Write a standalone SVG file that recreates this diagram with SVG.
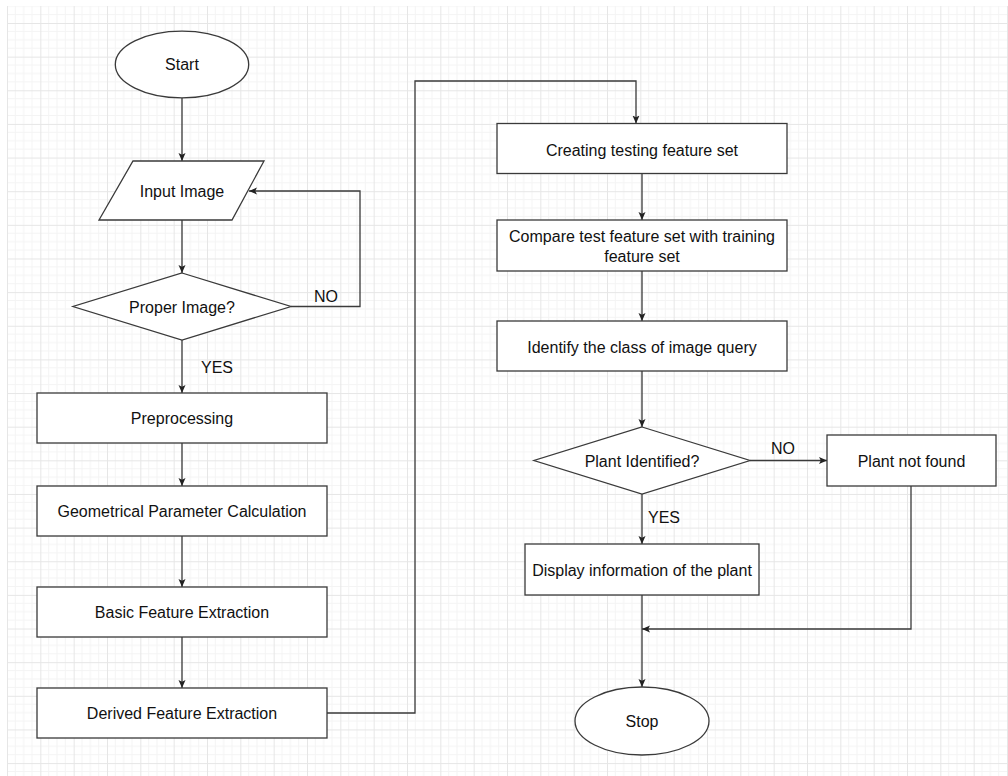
<svg xmlns="http://www.w3.org/2000/svg" width="1008" height="776" viewBox="0 0 1008 776">
<style>
.s{fill:#fff;stroke:#3a3a3a;stroke-width:1.3}
.c{fill:none;stroke:#3a3a3a;stroke-width:1.3}
.t{font-family:"Liberation Sans",Arial,sans-serif;font-size:16px;fill:#111;text-anchor:middle}
</style>
<defs>
<pattern id="g" x="7" y="23" width="33.333" height="33.64" patternUnits="userSpaceOnUse">
<path d="M8.333 0V33.64M16.667 0V33.64M25 0V33.64M0 8.41H33.333M0 16.82H33.333M0 25.23H33.333" stroke="#f4f4f4" stroke-width="1" fill="none"/>
<path d="M0.5 0V33.64M0 0.5H33.333" stroke="#e6e6e6" stroke-width="1" fill="none"/>
</pattern>
<marker id="a" viewBox="0 0 8 8" refX="8" refY="4" markerWidth="8" markerHeight="8" markerUnits="userSpaceOnUse" orient="auto">
<path d="M0,0.5 L8,4 L0,7.5 L1.8,4 z" fill="#222"/>
</marker>
</defs>
<rect width="1008" height="776" fill="#fff"/>
<rect x="7" y="6" width="1001" height="770" fill="url(#g)"/>

<g id="connectors">
<path class="c" d="M182 98V161" marker-end="url(#a)"/>
<path class="c" d="M182 220V273" marker-end="url(#a)"/>
<path class="c" d="M291 306.5H360V191H249" marker-end="url(#a)"/>
<path class="c" d="M182 340V393" marker-end="url(#a)"/>
<path class="c" d="M182 443V486" marker-end="url(#a)"/>
<path class="c" d="M182 536V587" marker-end="url(#a)"/>
<path class="c" d="M182 637V688" marker-end="url(#a)"/>
<path class="c" d="M327 713H415V81H636V123.5" marker-end="url(#a)"/>
<path class="c" d="M642 173.5V220" marker-end="url(#a)"/>
<path class="c" d="M642 271V321" marker-end="url(#a)"/>
<path class="c" d="M642 371V427" marker-end="url(#a)"/>
<path class="c" d="M750 460.5H827" marker-end="url(#a)"/>
<path class="c" d="M642 494V544" marker-end="url(#a)"/>
<path class="c" d="M911 486V629H642" marker-end="url(#a)"/>
<path class="c" d="M642 595V687" marker-end="url(#a)"/>
<text class="t" x="326" y="302">NO</text>
<text class="t" x="217" y="373">YES</text>
<text class="t" x="783" y="454">NO</text>
<text class="t" x="664" y="523">YES</text>
</g>

<g id="start"><ellipse class="s" cx="182" cy="64.5" rx="66.7" ry="33.3"/><text class="t" x="182" y="70">Start</text></g>
<g id="input"><path class="s" d="M133 161H264L232 220H99Z"/><text class="t" x="182" y="197">Input Image</text></g>
<g id="proper"><path class="s" d="M182 273L291 306.5L182 340L73 306.5Z"/><text class="t" x="182" y="313">Proper Image?</text></g>
<g id="preprocessing"><rect class="s" x="37" y="393" width="290" height="50"/><text class="t" x="182" y="424">Preprocessing</text></g>
<g id="geometrical"><rect class="s" x="37" y="486" width="290" height="50"/><text class="t" x="182" y="517">Geometrical Parameter Calculation</text></g>
<g id="basic"><rect class="s" x="37" y="587" width="290" height="50"/><text class="t" x="182" y="618">Basic Feature Extraction</text></g>
<g id="derived"><rect class="s" x="37" y="688" width="290" height="50"/><text class="t" x="182" y="719">Derived Feature Extraction</text></g>
<g id="creating"><rect class="s" x="497" y="123.5" width="290" height="50"/><text class="t" x="642" y="156">Creating testing feature set</text></g>
<g id="compare"><rect class="s" x="497" y="220" width="290" height="51"/><text class="t" x="642" y="242">Compare test feature set with training</text><text class="t" x="642" y="262">feature set</text></g>
<g id="identify"><rect class="s" x="497" y="321" width="290" height="50"/><text class="t" x="642" y="353">Identify the class of image query</text></g>
<g id="plantid"><path class="s" d="M642 427L750 460.5L642 494L534 460.5Z"/><text class="t" x="642" y="467">Plant Identified?</text></g>
<g id="notfound"><rect class="s" x="827" y="435" width="169" height="51"/><text class="t" x="911.5" y="467">Plant not found</text></g>
<g id="display"><rect class="s" x="525" y="544" width="234" height="51"/><text class="t" x="642" y="576">Display information of the plant</text></g>
<g id="stop"><ellipse class="s" cx="642" cy="721" rx="67" ry="34"/><text class="t" x="642" y="727">Stop</text></g>
</svg>
